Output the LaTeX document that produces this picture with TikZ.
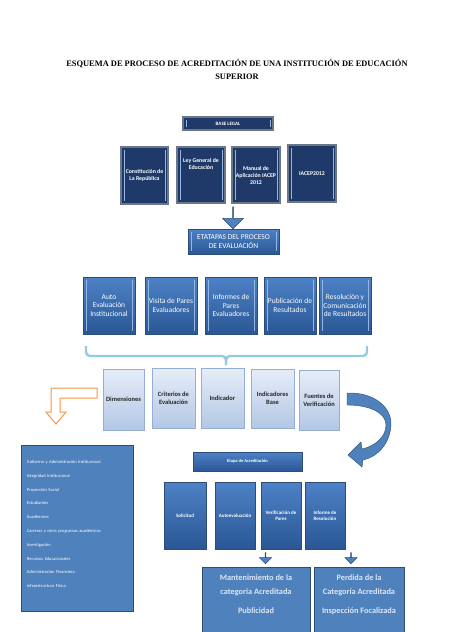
\documentclass[tikz,border=0pt]{standalone}
\usepackage{fontspec}
\setmainfont{Carlito}
\newfontfamily\titlefont{Liberation Serif}
\usetikzlibrary{shapes.arrows,calc}

\definecolor{marino}{HTML}{1F3A68}
\definecolor{gris}{HTML}{6B7686}
\definecolor{claro}{HTML}{92B6E4}
\definecolor{azularriba}{HTML}{4D82C6}
\definecolor{azulabajo}{HTML}{2A5795}
\definecolor{bordeazul}{HTML}{2C4D75}
\definecolor{azulmedio}{HTML}{4F81BD}
\definecolor{celeste}{HTML}{E6EDF8}
\definecolor{celesteabajo}{HTML}{B3C7E5}
\definecolor{bordeceleste}{HTML}{95AED3}
\definecolor{turquesa}{HTML}{93CDDD}
\definecolor{naranja}{HTML}{F79646}
\definecolor{textoclaro}{HTML}{DDE7F3}

\tikzset{
  bisel/.style={path picture={
    \draw[#1, line width=1pt]
      ([xshift=3pt,yshift=-3pt]path picture bounding box.north west) --
      ([xshift=3pt,yshift=3pt]path picture bounding box.south west);
    \draw[#1, line width=1pt]
      ([xshift=-3pt,yshift=-3pt]path picture bounding box.north east) --
      ([xshift=-3pt,yshift=3pt]path picture bounding box.south east);}},
  legalbox/.style={draw=gris, line width=1.2pt, fill=marino, text=white,
    font=\bfseries\fontsize{5.8}{7}\selectfont, align=center, inner sep=1pt,
    bisel=claro},
  etapabox/.style={draw=bordeazul, line width=.5pt, top color=azularriba,
    bottom color=azulabajo, text=white, align=center, inner sep=1pt,
    font=\fontsize{7.5}{8.5}\selectfont, bisel=claro},
  acredbox/.style={draw=bordeazul, line width=.5pt, top color=azularriba,
    bottom color=azulabajo, text=white, align=center, inner sep=1pt,
    font=\bfseries\fontsize{5}{6}\selectfont},
  critbox/.style={draw=bordeceleste, line width=.6pt, top color=celeste,
    bottom color=celesteabajo, text=black!85, align=center, inner sep=1pt,
    font=\bfseries\fontsize{6.5}{8}\selectfont},
  planbox/.style={draw=bordeazul, line width=.7pt, fill=azulmedio},
  flecha/.style={single arrow, draw=bordeazul, fill=azulmedio, rotate=-90,
    inner sep=0pt, line width=.5pt},
  llave/.style={draw=turquesa, line width=2.4pt, rounded corners=4pt},
}

\begin{document}
\begin{tikzpicture}[x=1pt,y=-1pt]
  \useasboundingbox (0,0) rectangle (474,632);

  \node[font=\titlefont\bfseries\fontsize{8.4}{13}\selectfont, align=center]
    (titulo) at (237,69.5)
    {ESQUEMA DE PROCESO DE ACREDITACIÓN DE UNA INSTITUCIÓN DE EDUCACIÓN\\SUPERIOR};

  % base legal
  \node[legalbox, minimum width=90, minimum height=13,
    font=\bfseries\fontsize{5}{6}\selectfont] (legal) at (228,123.5) {BASE LEGAL};
  \node[legalbox, minimum width=47, minimum height=57] (l1) at (144.5,175.5)
    {Constitución de\\La República};
  \node[legalbox, minimum width=48, minimum height=56] (l2) at (201,175)
    {Ley General de\\Educación\\[16pt]\mbox{}};
  \node[legalbox, minimum width=48, minimum height=56] (l3) at (256,175)
    {Manual de\\Aplicación IACEP\\2012};
  \node[legalbox, minimum width=48, minimum height=57] (l4) at (312,173.5)
    {IACEP2012};

  \node[flecha, minimum width=21, minimum height=22,
    single arrow head extend=5pt] (bajar) at (233,217.5) {};

  \node[etapabox, minimum width=91, minimum height=25] (etapas) at (233.5,241.5)
    {ETATAPAS DEL PROCESO\\DE EVALUACIÓN};

  % etapas del proceso
  \node[etapabox, minimum width=52, minimum height=57] (e1) at (109,305.5)
    {Auto\\Evaluación\\Institucional};
  \node[etapabox, minimum width=52, minimum height=57] (e2) at (171,305.5)
    {Visita de Pares\\Evaluadores};
  \node[etapabox, minimum width=52, minimum height=57] (e3) at (231,305.5)
    {Informes de\\Pares\\Evaluadores};
  \node[etapabox, minimum width=52, minimum height=57] (e4) at (290,305.5)
    {Publicación de\\Resultados};
  \node[etapabox, minimum width=52, minimum height=57] (e5) at (345,305.5)
    {Resolución y\\Comunicación\\de Resultados};

  \coordinate (llaveA) at (86,346);
  \coordinate (llaveB) at (367,346);
  \coordinate (llaveC) at (226,365);
  \draw[llave] (llaveA) |- (226,356) -- (llaveC);
  \draw[llave] (llaveB) |- (226,356) -- (llaveC);

  % criterios
  \node[critbox, minimum width=41, minimum height=61] (c1) at (123.5,399.5)
    {Dimensiones};
  \node[critbox, minimum width=43, minimum height=60] (c2) at (173.5,398)
    {Criterios de\\Evaluación};
  \node[critbox, minimum width=43, minimum height=60] (c3) at (222.5,398)
    {Indicador};
  \node[critbox, minimum width=43, minimum height=59] (c4) at (272.5,398.5)
    {Indicadores\\Base};
  \node[critbox, minimum width=40, minimum height=60] (c5) at (319,400)
    {Fuentes de\\Verificación};

  \draw[naranja, line width=1pt, fill=white]
    (97,388) -- (51,388) -- (51,412) -- (46,412) -- (56,424) -- (66,412)
    -- (60,412) -- (60,398) -- (97,398) -- cycle;

  \fill[azulmedio, draw=bordeazul, line width=.4pt]
    (347,393) .. controls (375,392) and (392,408) .. (391,425)
    .. controls (390,443) and (378,457) .. (363,460)
    -- (362,467) -- (348,455) -- (361,442) -- (362,449)
    .. controls (375,446) and (386,437) .. (386,425)
    .. controls (386,413) and (370,405) .. (347,405) -- cycle;

  % dimensiones
  \node[planbox, minimum width=112, minimum height=166, text width=100,
    inner xsep=6pt, align=left, text=white,
    font=\fontsize{4.5}{13.8}\selectfont] (lista) at (77,528)
    {Gobierno y Administración Institucional\\Integridad Institucional\\
     Proyección Social\\Estudiantes\\Académicos\\
     Carreras y otros programas académicos\\Investigación\\
     Recursos Educacionales\\Administración Financiera\\Infraestructura Física\\[-5.8pt]\mbox{}};

  % etapa de acreditacion
  \node[acredbox, minimum width=109, minimum height=19,
    font=\bfseries\fontsize{4.5}{5}\selectfont] (acred) at (247.5,461.5)
    {Etapa de Acreditación};
  \node[acredbox, minimum width=42, minimum height=67] (a1) at (185,515.5)
    {Solicitud};
  \node[acredbox, minimum width=40, minimum height=67] (a2) at (235,515.5)
    {Autoevaluación};
  \node[acredbox, minimum width=40, minimum height=67] (a3) at (281,515.5)
    {Verificación de\\Pares};
  \node[acredbox, minimum width=40, minimum height=67] (a4) at (325,515.5)
    {Informe de\\Resolución};

  \node[planbox, minimum width=108, minimum height=70, text=textoclaro,
    align=center, text depth=16pt, font=\bfseries\fontsize{8.3}{14}\selectfont]
    (m1) at (256,602) {Mantenimiento de la\\categoria Acreditada\\[5pt]Publicidad};
  \node[planbox, minimum width=90, minimum height=70, text=textoclaro,
    align=center, text depth=16pt, font=\bfseries\fontsize{8.3}{14}\selectfont]
    (m2) at (359,602) {Perdida de la\\Categoría Acreditada\\[5pt]Inspección Focalizada};

  \node[flecha, minimum width=12, minimum height=11,
    single arrow head extend=3pt] (d1) at ($(a3.south)!0.5!(m1.north)+(-3,0)$) {};
  \node[flecha, minimum width=12, minimum height=11,
    single arrow head extend=3pt] (d2) at ($(a4.south)!0.5!(m2.north)+(9,0)$) {};
\end{tikzpicture}
\end{document}
